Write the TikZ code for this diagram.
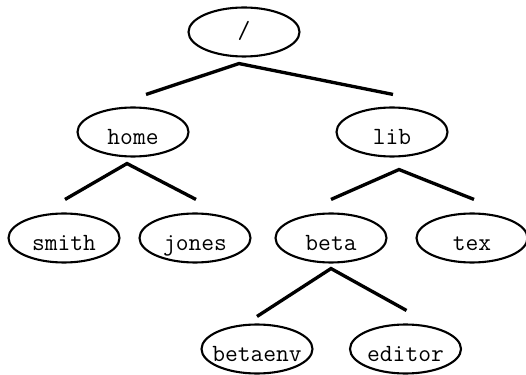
\documentclass[tikz,border=0pt]{standalone}
\usetikzlibrary{shapes.geometric}

\tikzset{
  dirnode/.style={draw, ellipse, line width=1.2pt, minimum width=2.22cm, minimum height=0.98cm,
    inner xsep=-0.3cm, inner ysep=0pt, text height=0.5cm, text depth=0pt,
    font=\ttfamily\fontsize{14.1}{17}\selectfont},
  branch/.style={line width=1.9pt}
}

\begin{document}
\begin{tikzpicture}
    \useasboundingbox (0,0) rectangle (10.52,7.48);

    % 目录节点
    \node[dirnode, text height=0.28cm] (root) at (4.88, 6.84) {/};
    \node[dirnode] (home) at (2.66, 4.84) {home};
    \node[dirnode] (lib) at (7.84, 4.84) {lib};
    \node[dirnode] (smith) at (1.28, 2.72) {smith};
    \node[dirnode] (jones) at (3.90, 2.72) {jones};
    \node[dirnode] (beta) at (6.62, 2.72) {beta};
    \node[dirnode] (tex) at (9.44, 2.72) {tex};
    \node[dirnode] (betaenv) at (5.14, 0.50) {betaenv};
    \node[dirnode] (editor) at (8.11, 0.50) {editor};

    % 分支
    \draw[branch] ([xshift=0.26cm, yshift=0.24cm]home.north) -- ([xshift=-0.1cm, yshift=-0.12cm]root.south) -- ([xshift=0.02cm, yshift=0.24cm]lib.north);
    \draw[branch] ([xshift=0.02cm, yshift=0.26cm]smith.north) -- ([xshift=-0.12cm, yshift=-0.12cm]home.south) -- ([xshift=0.02cm, yshift=0.26cm]jones.north);
    \draw[branch] ([yshift=0.26cm]beta.north) -- ([xshift=0.14cm, yshift=-0.24cm]lib.south) -- ([xshift=0.04cm, yshift=0.26cm]tex.north);
    \draw[branch] ([yshift=0.14cm]betaenv.north) -- ([yshift=-0.1cm]beta.south) -- ([xshift=0.02cm, yshift=0.26cm]editor.north);
\end{tikzpicture}
\end{document}
